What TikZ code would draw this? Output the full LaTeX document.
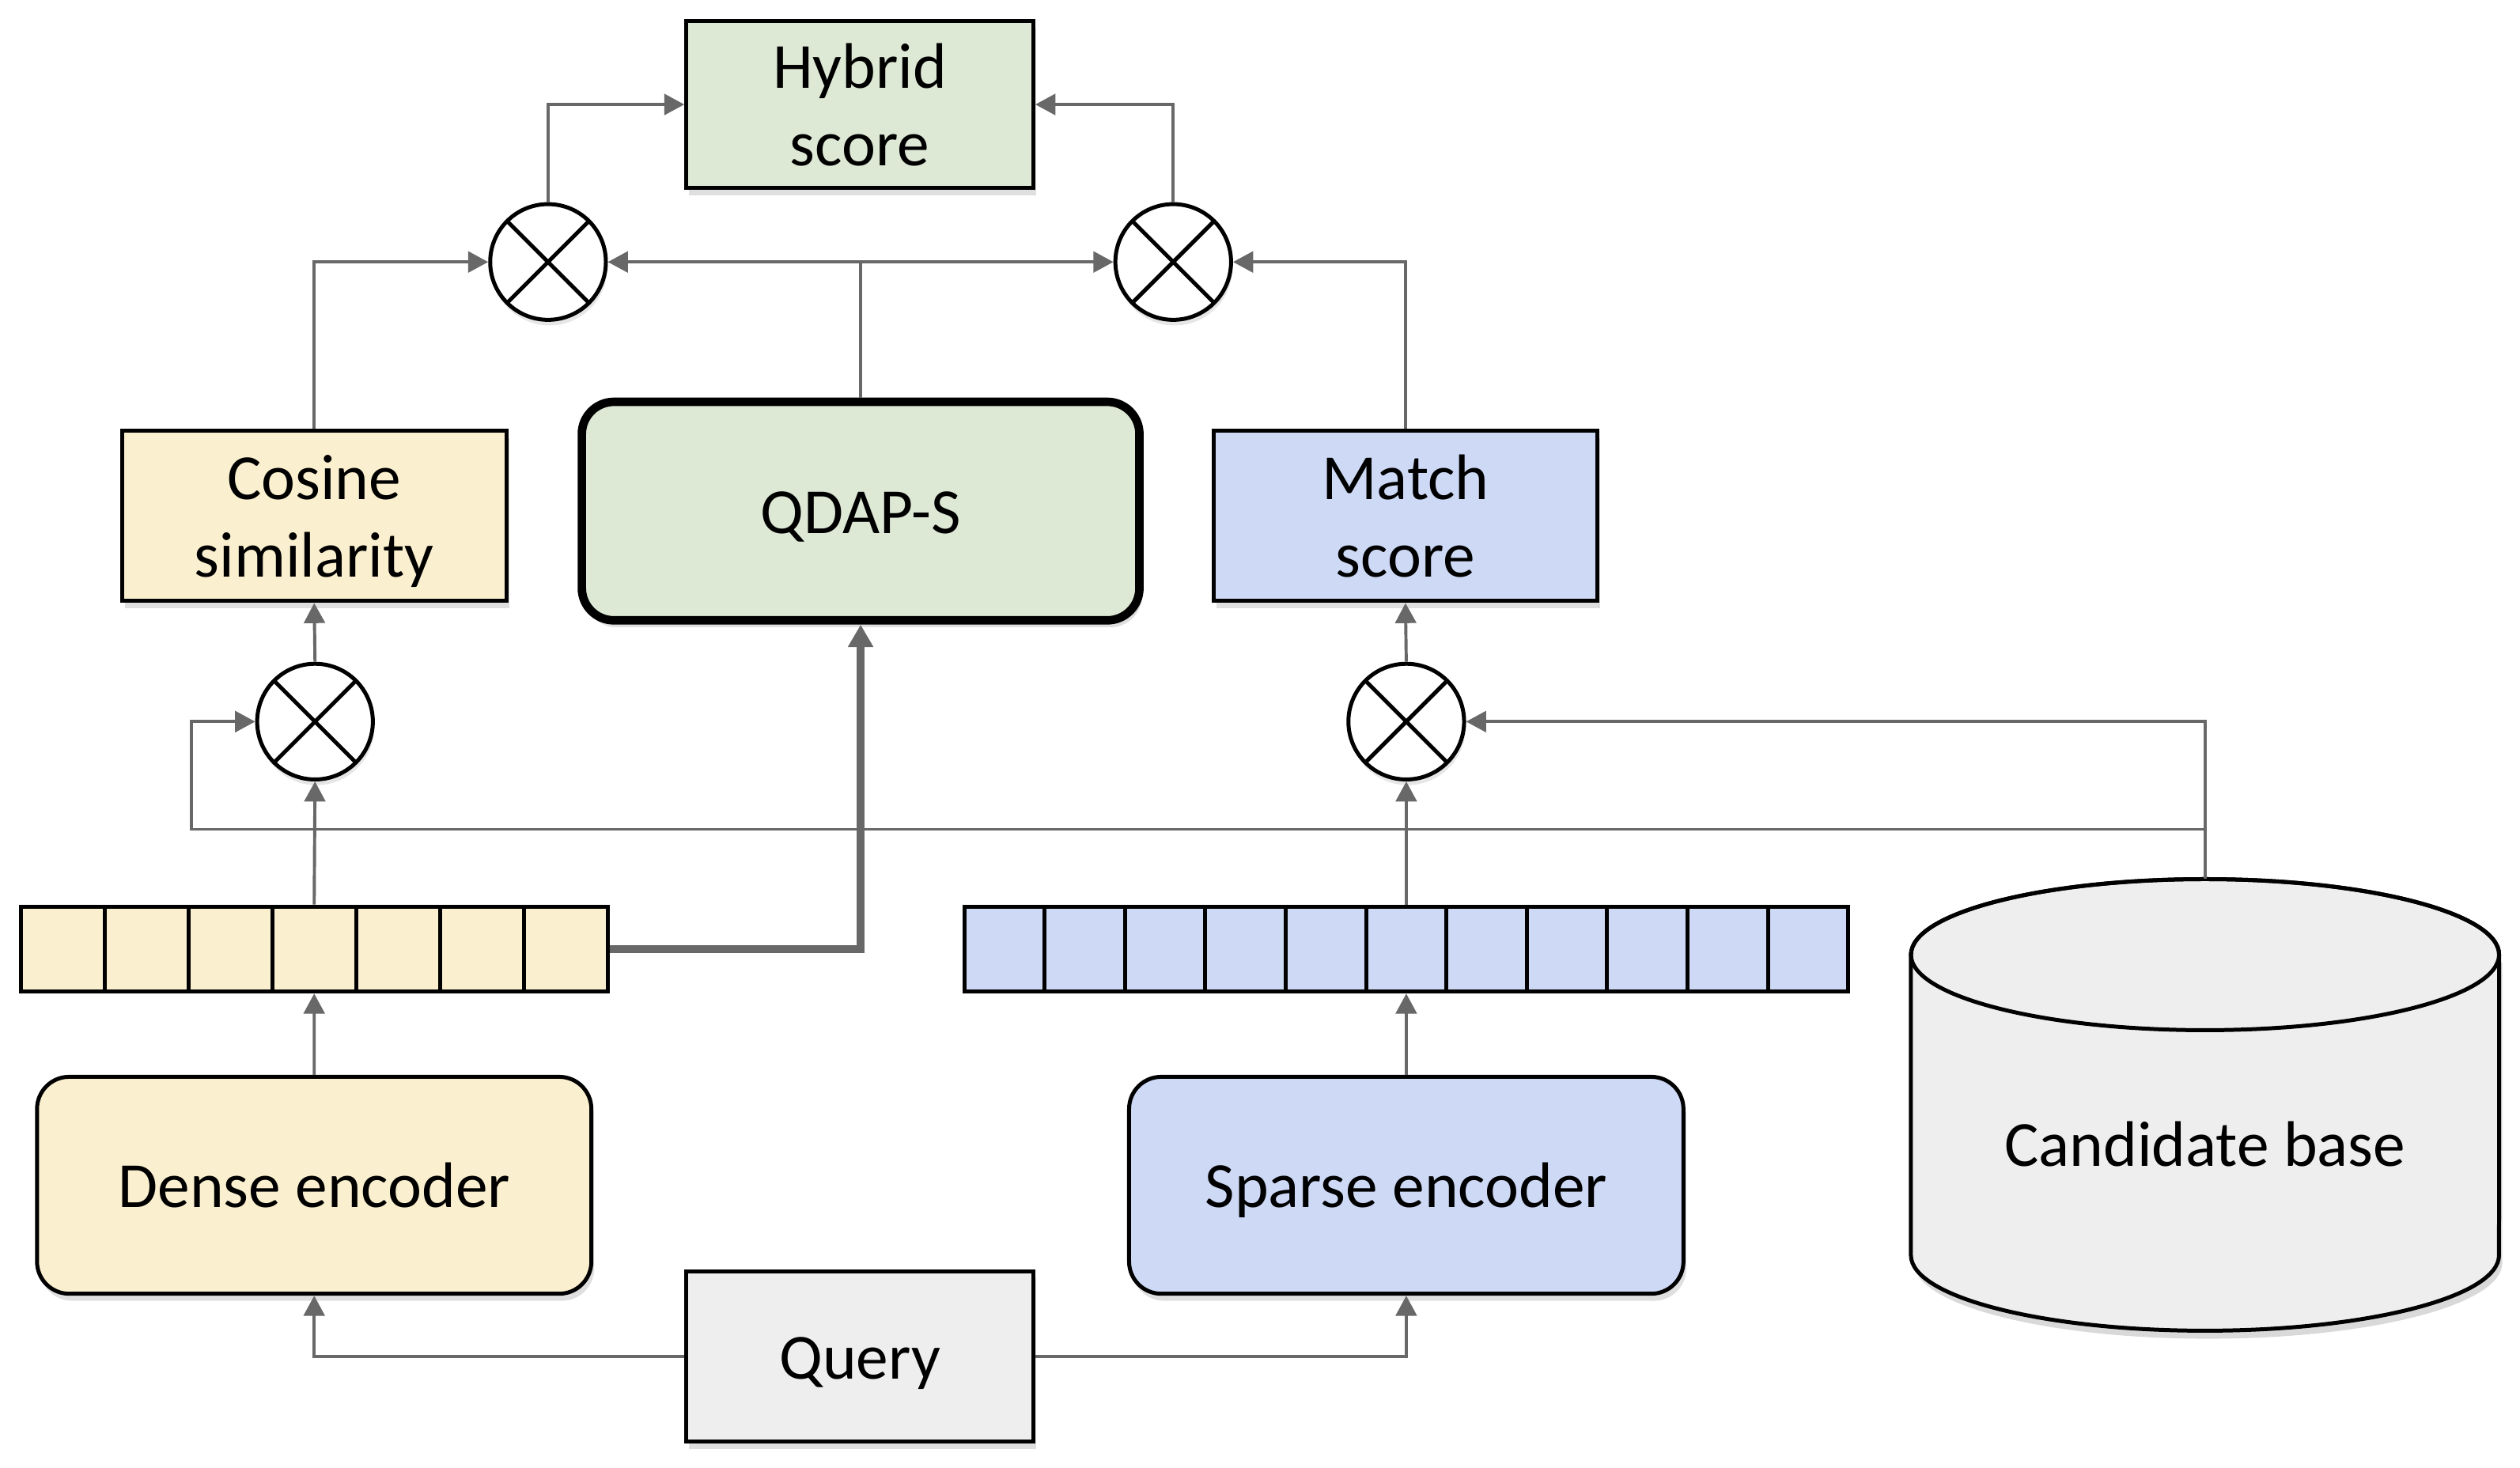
\documentclass[tikz,border=0pt]{standalone}
\usepackage{fontspec}
\setmainfont{Carlito}
\usetikzlibrary{arrows.meta,positioning,shadows}

\definecolor{densefill}{HTML}{FAF0CF}
\definecolor{hybfill}{HTML}{DDE8D5}
\definecolor{sparsefill}{HTML}{CDD9F5}
\definecolor{basefill}{HTML}{EEEEEE}
\definecolor{linegray}{HTML}{686868}

% text lines with even struts, set a little low as in the slide
\newcommand{\boxtext}[1]{\raisebox{-2.4pt}[\height][\depth]{\begin{tabular}{@{}c@{}}#1\end{tabular}}}

\tikzset{
	txt/.style={font=\fontsize{22.8pt}{27.5pt}\selectfont, align=center},
	box/.style={draw, line width=1.4pt, inner sep=0pt, txt,
		drop shadow={shadow xshift=1pt, shadow yshift=-2.5pt, opacity=0.25}},
	enc/.style={box, rounded corners=0.4cm, minimum width=6.9cm, minimum height=2.7cm},
	mult/.style={circle, draw, line width=1.4pt, fill=white, minimum size=1.44cm, inner sep=0pt,
		drop shadow={shadow xshift=0.5pt, shadow yshift=-2pt, opacity=0.2},
		path picture={\draw[line width=1.4pt] (path picture bounding box.north west) -- (path picture bounding box.south east)
			(path picture bounding box.north east) -- (path picture bounding box.south west);}},
	cell/.style={draw, line width=1.4pt, minimum height=1.06cm, inner sep=0pt},
	conn/.style={draw=linegray, line width=1.1pt, -{Triangle[length=0.25cm, width=0.26cm]}},
	thickconn/.style={draw=linegray, line width=2.8pt, -{Triangle[length=0.28cm, width=0.3cm]}}
}

\begin{document}
\begin{tikzpicture}[x=0.02cm, y=-0.02cm]
	\useasboundingbox (0,0) rectangle (1568,913.4);

	% scores and fusion
	\node[box, fill=hybfill, minimum width=4.32cm, minimum height=2.08cm] (hyb) at (535,65) {\boxtext{Hybrid\\score}};
	\node[mult] (m3) at (341,163) {};
	\node[mult] (m4) at (730,163) {};
	\node[box, fill=densefill, minimum width=4.78cm, minimum height=2.12cm] (cos) at (195.5,321) {\boxtext{Cosine\\similarity}};
	\node[box, fill=hybfill, line width=3pt, rounded corners=0.4cm, minimum width=6.94cm, minimum height=2.72cm] (qdap) at (535.5,318) {\boxtext{QDAP-S}};
	\node[box, fill=sparsefill, minimum width=4.78cm, minimum height=2.12cm] (match) at (874.5,321) {\boxtext{Match\\score}};
	\node[mult] (m1) at (196,449) {};
	\node[mult] (m2) at (875,449) {};

	% vectors
	\foreach \i in {1,...,7}
		\node[cell, fill=densefill, minimum width=1.0428cm] (dv\i) at ({13+52.14*(\i-0.5)},590.5) {};
	\foreach \i in {1,...,11}
		\node[cell, fill=sparsefill, minimum width=1cm] (sv\i) at ({600+50*(\i-0.5)},590.5) {};

	% encoders and inputs
	\node[enc, fill=densefill] (denc) at (195.5,737.5) {\boxtext{Dense encoder}};
	\node[enc, fill=sparsefill] (senc) at (875,737.5) {\boxtext{Sparse encoder}};
	\node[box, fill=basefill, minimum width=4.32cm, minimum height=2.12cm] (query) at (535,844) {\boxtext{Query}};

	% candidate base
	\fill[black, opacity=0.15] (1191,599) -- (1191,786) arc[start angle=180, end angle=360, x radius=3.66cm, y radius=0.94cm] -- (1557,599) -- cycle;
	\filldraw[fill=basefill, line width=1.4pt] (1189,594) -- (1189,781) arc[start angle=180, end angle=360, x radius=3.66cm, y radius=0.94cm]
		-- (1555,594) arc[start angle=0, end angle=180, x radius=3.66cm, y radius=0.94cm] -- cycle;
	\draw[line width=1.4pt] (1372,594) ellipse[x radius=3.66cm, y radius=0.94cm];
	\node[txt] (cand) at (1372,712) {\boxtext{Candidate base}};
	\coordinate (cbtop) at (1372,547);
	\coordinate (bus) at (1372,516);
	\coordinate (busleft) at (119,516);
	\coordinate (qfork) at (535.5,163);

	% connectors
	\draw[conn] (query.west) -| (denc.south);
	\draw[conn] (query.east) -| (senc.south);
	\draw[conn] (denc.north) -- (dv4.south);
	\draw[conn] (senc.north) -- (sv6.south);
	\draw[conn] (dv4.north) -- (m1.south);
	\draw[conn] (sv6.north) -- (m2.south);
	\draw[conn] (m1.north) -- (cos.south);
	\draw[conn] (m2.north) -- (match.south);
	\draw[conn] (cbtop) |- (m2.east);
	\draw[conn] (bus) -- (busleft) |- (m1.west);
	\draw[thickconn] (dv7.east) -| (qdap.south);
	\draw[draw=linegray, line width=1.1pt] (qdap.north) -- (qfork);
	\draw[conn] (qfork) -- (m3.east);
	\draw[conn] (qfork) -- (m4.west);
	\draw[conn] (cos.north) |- (m3.west);
	\draw[conn] (match.north) |- (m4.east);
	\draw[conn] (m3.north) |- (hyb.west);
	\draw[conn] (m4.north) |- (hyb.east);
\end{tikzpicture}
\end{document}
